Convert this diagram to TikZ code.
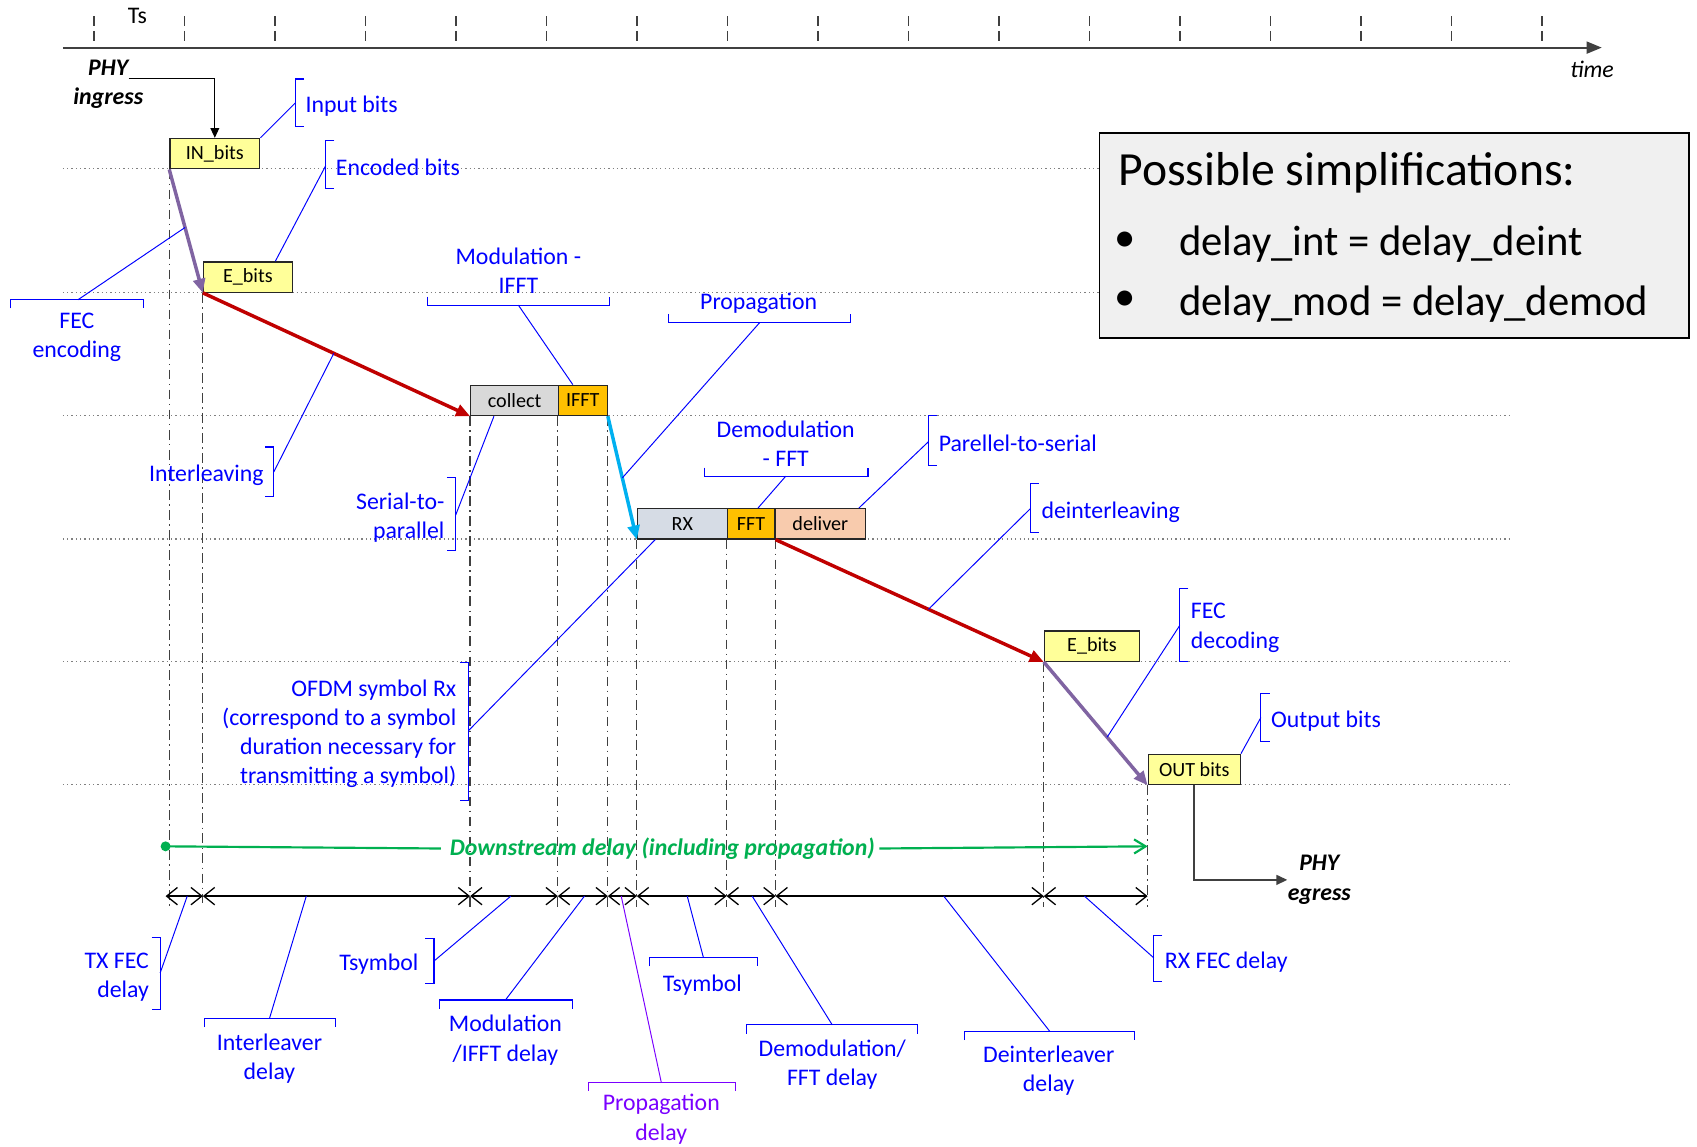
\documentclass[tikz,border=0pt]{standalone}
\usepackage{fontspec}
\setmainfont{Carlito}
\usetikzlibrary{arrows.meta,calc}
\definecolor{lblue}{RGB}{0,0,255}
\definecolor{lviolet}{RGB}{122,0,255}
\definecolor{byellow}{RGB}{255,255,153}
\definecolor{bgray}{RGB}{217,217,217}
\definecolor{borange}{RGB}{255,192,0}
\definecolor{bsteel}{RGB}{214,220,229}
\definecolor{bpeach}{RGB}{248,203,173}
\definecolor{apurple}{RGB}{128,100,162}
\definecolor{ared}{RGB}{192,0,0}
\definecolor{acyan}{RGB}{0,176,240}
\definecolor{agreen}{RGB}{0,176,80}
\definecolor{gridgray}{RGB}{128,128,128}
\definecolor{guide}{RGB}{64,64,64}
\definecolor{notefill}{RGB}{240,240,240}

% bracket helpers: [ opening right, ] opening left, horizontal with ends down / up
\newcommand\BrkL[3]{\draw[brk] ({#1+8},#2) -- (#1,#2) -- (#1,#3) -- ({#1+8},#3);}
\newcommand\BrkR[3]{\draw[brk] ({#1-8},#2) -- (#1,#2) -- (#1,#3) -- ({#1-8},#3);}
\newcommand\BrkD[3]{\draw[brk] (#1,{#3+8}) -- (#1,#3) -- (#2,#3) -- (#2,{#3+8});}
\newcommand\BrkU[3]{\draw[brk] (#1,{#3-8}) -- (#1,#3) -- (#2,#3) -- (#2,{#3-8});}

\begin{document}
\begin{tikzpicture}[x=0.5pt,y=-0.5pt,
  lbl/.style={inner sep=0pt, text=lblue, yshift=-1.5pt, font=\fontsize{11}{13.5}\selectfont},
  plain/.style={inner sep=0pt, font=\fontsize{11}{13.5}\selectfont},
  phy/.style={inner sep=0pt, yshift=-1pt, font=\fontsize{11}{13.5}\selectfont\bfseries\itshape},
  cell/.style={draw=black!85, line width=0.6pt, inner sep=0pt, minimum height=14pt, font=\fontsize{9.3}{11}\selectfont},
  brk/.style={draw=lblue, line width=0.5pt},
  lead/.style={draw=lblue, line width=0.45pt},
  hdot/.style={draw=gridgray, line width=0.6pt, dash pattern=on 0.6pt off 1.4pt},
  ddot/.style={draw=guide, line width=0.6pt, dash pattern=on 4.5pt off 2pt on 0.75pt off 2pt},
  tick/.style={draw=guide, line width=0.7pt, dash pattern=on 4.6pt off 2.2pt},
  flow/.style={line width=1.6pt, -{Triangle[length=6.5pt,width=5.5pt]}},
  span/.style={draw=black, line width=0.6pt, {Straight Barb[length=5pt,width=8pt]}-{Straight Barb[length=5pt,width=8pt]}},
  note/.style={inner sep=0pt, font=\fontsize{19.7}{24}\selectfont},
]
\useasboundingbox[fill=white] (0,0) rectangle (1568,1059);

% ---- time axis ----
\foreach \k in {0,...,16} \draw[tick] ({87+83.6*\k},15) -- ({87+83.6*\k},38);
\coordinate (t0) at (58,44);
\coordinate (t1) at (1480,44);
\draw[guide, line width=1pt, -{Triangle[length=7pt,width=5.5pt]}] (t0) -- (t1);
\node[plain] (ts) at (127,15) {Ts};
\node[plain, font=\fontsize{11}{13.5}\selectfont\itshape] (time) at (1471,64) {time};

% ---- dotted level lines ----
\foreach \yy in {156,270,384,498,611,725} \draw[hdot] (58,\yy) -- (1397,\yy);

% ---- processing blocks ----
\node[cell, fill=byellow, minimum width=41.5pt] (inbits) at (198.5,142) {IN\_bits};
\node[cell, fill=byellow, minimum width=41pt] (ebitsA) at (229,256) {E\_bits};
\node[cell, fill=bgray, minimum width=40.5pt] (collect) at (475.5,370) {collect};
\node[cell, fill=borange, minimum width=22.5pt] (ifft) at (538.5,370) {IFFT};
\node[cell, fill=bsteel, minimum width=41.5pt] (rx) at (630.5,484) {RX};
\node[cell, fill=borange, minimum width=22pt] (fft) at (694,484) {FFT};
\node[cell, fill=bpeach, minimum width=42pt] (deliver) at (758,484) {deliver};
\node[cell, fill=byellow, minimum width=44pt] (ebitsB) at (1009,597) {E\_bits};
\node[cell, fill=byellow, minimum width=42.5pt] (outbits) at (1103.5,711) {OUT bits};

% ---- vertical guides down to the delay scale ----
\coordinate (gbot) at (0,838);
\foreach \a in {inbits.south west, ebitsA.south west, collect.south west, ifft.south west,
  ifft.south east, rx.south west, fft.south west, fft.south east, ebitsB.south west, outbits.south west}
  \draw[ddot] (\a) -- (\a |- gbot);

% ---- data flow ----
\draw[flow, apurple] (inbits.south west) -- (ebitsA.south west);
\draw[flow, ared] (ebitsA.south west) -- (collect.south west);
\draw[flow, acyan] (ifft.south east) -- (rx.south west);
\draw[flow, ared] (fft.south east) -- (ebitsB.south west);
\draw[flow, apurple] (ebitsB.south west) -- (outbits.south west);

% ---- PHY ingress / egress ----
\node[phy] (phyA) at (100,61) {PHY};
\node[phy] (ingr) at (100,89) {ingress};
\draw[line width=0.6pt, -{Triangle[length=4.5pt,width=4pt]}] ([yshift=-1pt]phyA.south east) -| (inbits.north);
\node[phy, align=center] (phyB) at (1219,811) {PHY\\egress};
\draw[guide, line width=0.8pt, -{Triangle[length=5pt,width=4.5pt]}] (outbits.south) |- (phyB.west);

% ---- overall downstream delay ----
\coordinate (g0) at (153,782);
\coordinate (g1) at (outbits.south west |- g0);
\node[phy, text=agreen] (dstext) at (612,782) {Downstream delay (including propagation)};
\fill[agreen] (g0) circle (2.3pt);
\draw[agreen, line width=1pt] (g0) -- ([xshift=-4pt]dstext.west);
\draw[agreen, line width=1pt, -{Straight Barb[length=5.3pt,width=6.5pt]}] ([xshift=2pt]dstext.east) -- (g1);

% ---- delay scale ----
\coordinate (d0) at (153,828);
\coordinate (d1) at (ebitsA.south west |- d0);
\coordinate (d2) at (collect.south west |- d0);
\coordinate (d3) at (ifft.south west |- d0);
\coordinate (d4) at (ifft.south east |- d0);
\coordinate (d5) at (rx.south west |- d0);
\coordinate (d6) at (fft.south west |- d0);
\coordinate (d7) at (fft.south east |- d0);
\coordinate (d8) at (ebitsB.south west |- d0);
\coordinate (d9) at (outbits.south west |- d0);
\foreach \p/\q in {d0/d1,d1/d2,d2/d3,d3/d4,d4/d5,d5/d6,d6/d7,d7/d8,d8/d9}
  \draw[span] (\p) -- (\q);

% ---- step annotations ----
\node[lbl, anchor=west] (lInput) at (282,95) {Input bits};
\BrkL{273}{73}{117}
\coordinate (bInput) at (273,95);
\draw[lead] (bInput) -- (inbits.north east);

\node[lbl, anchor=west] (lEnc) at (310,152) {Encoded bits};
\BrkL{301}{130}{174}
\coordinate (bEnc) at (301,153);
\draw[lead] (bEnc) -- ($(ebitsA.north west)+(67,0)$);

\node[lbl, align=center] (lFec) at (71,309) {FEC\\encoding};
\BrkD{10}{133}{277}
\coordinate (bFec) at (72,277);
\draw[lead] (bFec) -- ($(inbits.south west)!0.47!(ebitsA.south west)$);

\node[lbl, align=center] (lMod) at (479,247) {Modulation -\\IFFT};
\BrkU{395}{563}{282}
\coordinate (bMod) at (479,282);
\draw[lead] (bMod) -- ($(ifft.north west)!0.3!(ifft.north east)$);

\node[lbl] (lProp) at (701,277) {Propagation};
\BrkU{618}{786}{298}
\coordinate (bProp) at (702,298);
\draw[lead] (bProp) -- ($(ifft.south east)!0.5!(rx.south west)$);

\node[lbl, anchor=east] (lIntl) at (244,436) {Interleaving};
\BrkR{253}{413}{459}
\coordinate (bIntl) at (253,436);
\draw[lead] (bIntl) -- ($(ebitsA.south west)!0.49!(collect.south west)$);

\node[lbl, anchor=east, align=right] (lS2p) at (411,475) {Serial-to-\\parallel};
\BrkR{421}{441}{509}
\coordinate (bS2p) at (421,476);
\draw[lead] (bS2p) -- ($(collect.south west)+(22,0)$);

\node[lbl, anchor=east, align=right] (lOfdm) at (422,675) {OFDM symbol Rx\\(correspond to a symbol\\duration necessary for\\transmitting a symbol)};
\BrkR{433}{612}{740}
\coordinate (bOfdm) at (433,675);
\draw[lead] (bOfdm) -- ($(rx.south west)+(17,0)$);

\node[lbl, align=center] (lDemod) at (726,407) {Demodulation\\- FFT};
\BrkU{651}{802}{440}
\coordinate (bDemod) at (726,440);
\draw[lead] (bDemod) -- ($(fft.north west)+(29,0)$);

\node[lbl, anchor=west] (lP2s) at (867,407) {Parellel-to-serial};
\BrkL{858}{384}{430}
\coordinate (bP2s) at (858,408);
\draw[lead] (bP2s) -- ($(deliver.north east)+(-7,0)$);

\node[lbl, anchor=west] (lDeint) at (962,470) {deinterleaving};
\BrkL{952}{447}{492}
\coordinate (bDeint) at (952,470);
\draw[lead] (bDeint) -- ($(fft.south east)!0.57!(ebitsB.south west)$);

\node[lbl, anchor=west, align=left] (lFecd) at (1100,577) {FEC\\decoding};
\BrkL{1090}{544}{611}
\coordinate (bFecd) at (1090,578);
\draw[lead] (bFecd) -- ($(ebitsB.south west)!0.61!(outbits.south west)$);

\node[lbl, anchor=west] (lOut) at (1174,663) {Output bits};
\BrkL{1165}{641}{685}
\coordinate (bOut) at (1165,663);
\draw[lead] (bOut) -- (outbits.north east);

% ---- delay annotations ----
\node[lbl, anchor=east, align=right] (lTx) at (138,900) {TX FEC\\delay};
\BrkR{148}{866}{933}
\coordinate (bTx) at (148,899);
\coordinate (mTx) at (173,828);
\draw[lead] (bTx) -- (mTx);

\node[lbl, align=center] (lIlv) at (249,975) {Interleaver\\delay};
\BrkD{189}{310}{941}
\coordinate (bIlv) at (249,941);
\coordinate (mIlv) at (283,828);
\draw[lead] (bIlv) -- (mIlv);

\node[lbl, anchor=east] (lTs1) at (387,888) {Tsymbol};
\BrkR{401}{867}{909}
\coordinate (bTs1) at (401,888);
\coordinate (mTs1) at (472,828);
\draw[lead] (bTs1) -- (mTs1);

\node[lbl, align=center] (lModd) at (467,958) {Modulation\\/IFFT delay};
\BrkD{406}{529}{924}
\coordinate (bModd) at (467,924);
\coordinate (mModd) at (540,828);
\draw[lead] (bModd) -- (mModd);

\node[lbl, text=lviolet, align=center] (lPropd) at (611,1031) {Propagation\\delay};
\draw[brk, draw=lviolet] (544,1008) -- (544,1000) -- (680,1000) -- (680,1008);
\coordinate (bPropd) at (611,1000);
\coordinate (mPropd) at (574,828);
\draw[lead, draw=lviolet] (bPropd) -- (mPropd);

\node[lbl] (lTs2) at (649,907) {Tsymbol};
\BrkD{600}{700}{885}
\coordinate (bTs2) at (650,885);
\coordinate (mTs2) at (635,828);
\draw[lead] (bTs2) -- (mTs2);

\node[lbl, align=center] (lDmd) at (769,981) {Demodulation/\\FFT delay};
\BrkD{690}{848}{947}
\coordinate (bDmd) at (769,947);
\coordinate (mDmd) at (695,828);
\draw[lead] (bDmd) -- (mDmd);

\node[lbl, align=center] (lDil) at (969,986) {Deinterleaver\\delay};
\BrkD{891}{1048}{953}
\coordinate (bDil) at (970,953);
\coordinate (mDil) at (872,828);
\draw[lead] (bDil) -- (mDil);

\node[lbl, anchor=west] (lRx) at (1076,886) {RX FEC delay};
\BrkL{1066}{864}{907}
\coordinate (bRx) at (1066,885);
\coordinate (mRx) at (1002,828);
\draw[lead] (bRx) -- (mRx);

% ---- note box ----
\node[draw=black, line width=0.9pt, fill=notefill, inner sep=0pt, anchor=north west,
  minimum width=272.5pt, minimum height=94.5pt] (notebox) at (1015,122) {};
\node[note, anchor=west, font=\fontsize{22}{26}\selectfont] (noteT) at (1033,160) {Possible simplifications:};
\node[note] (bulA) at (1040,223) {•};
\node[note] (bulB) at (1040,278) {•};
\node[note, anchor=west] (simA) at (1089,226) {delay\_int = delay\_deint};
\node[note, anchor=west] (simB) at (1089,281) {delay\_mod = delay\_demod};
\end{tikzpicture}
\end{document}
